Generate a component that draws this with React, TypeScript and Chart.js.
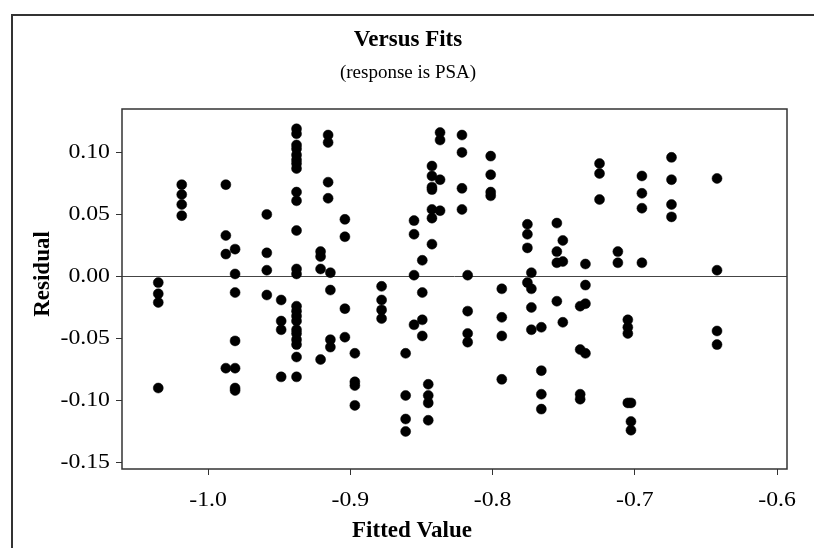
import { useEffect, useRef } from "react";
import { Chart, registerables } from "chart.js";

Chart.register(...registerables);

// Fitted values (one per vertical stack of points) and the residuals at each of them
const FIT_COLUMNS = [
  -1.035, -1.0185, -0.9875, -0.981, -0.9587, -0.9486, -0.9378, -0.9209, -0.9156, -0.914,
  -0.9038, -0.8968, -0.878, -0.8611, -0.8552, -0.8494, -0.8452, -0.8426, -0.8369, -0.8215,
  -0.8175, -0.8013, -0.7935, -0.7755, -0.7727, -0.7657, -0.7548, -0.7506, -0.7384, -0.7347,
  -0.7248, -0.7119, -0.7049, -0.7027, -0.695, -0.6742, -0.6422,
];

const RESIDUAL_COLUMNS = [
  [-0.005, -0.014, -0.021, -0.09],
  [0.074, 0.066, 0.058, 0.049],
  [0.074, 0.033, 0.018, -0.074],
  [0.022, 0.002, -0.013, -0.052, -0.074, -0.09, -0.092],
  [0.05, 0.019, 0.005, -0.015],
  [-0.019, -0.036, -0.043, -0.081],
  [
    0.119, 0.115, 0.106, 0.103, 0.098, 0.094, 0.091, 0.087, 0.068, 0.061, 0.037, 0.006,
    0.002, -0.024, -0.028, -0.032, -0.036, -0.043, -0.046, -0.051, -0.055, -0.065, -0.081,
  ],
  [0.02, 0.016, 0.006, -0.067],
  [0.114, 0.108, 0.076, 0.063],
  [0.003, -0.011, -0.051, -0.057],
  [0.046, 0.032, -0.026, -0.049],
  [-0.062, -0.085, -0.088, -0.104],
  [-0.008, -0.019, -0.027, -0.034],
  [-0.062, -0.096, -0.115, -0.125],
  [0.045, 0.034, 0.001, -0.039],
  [0.013, -0.013, -0.035, -0.048],
  [-0.087, -0.096, -0.102, -0.116],
  [0.089, 0.081, 0.072, 0.07, 0.054, 0.047, 0.026],
  [0.116, 0.11, 0.078, 0.053],
  [0.114, 0.1, 0.071, 0.054],
  [0.001, -0.028, -0.046, -0.053],
  [0.097, 0.082, 0.068, 0.065],
  [-0.01, -0.033, -0.048, -0.083],
  [0.042, 0.034, 0.023, -0.005],
  [0.003, -0.01, -0.025, -0.043],
  [-0.041, -0.076, -0.095, -0.107],
  [0.043, 0.02, 0.011, -0.02],
  [0.029, 0.012, -0.037],
  [-0.024, -0.059, -0.095, -0.099],
  [0.01, -0.007, -0.022, -0.062],
  [0.091, 0.083, 0.062],
  [0.02, 0.011],
  [-0.035, -0.041, -0.046, -0.102],
  [-0.102, -0.117, -0.124],
  [0.081, 0.067, 0.055, 0.011],
  [0.096, 0.078, 0.058, 0.048],
  [0.079, 0.005, -0.044, -0.055],
];

const X_TICKS = [-1.0, -0.9, -0.8, -0.7, -0.6];
const Y_TICKS = [-0.15, -0.1, -0.05, 0, 0.05, 0.1];

const TITLE = "Versus Fits";
const SUBTITLE = "(response is PSA)";
const X_TITLE = "Fitted Value";
const Y_TITLE = "Residual";

const SERIF = "'Liberation Serif', 'Times New Roman', serif";
const LINE = "#333333";

function drawText(
  ctx: CanvasRenderingContext2D,
  text: string,
  x: number,
  y: number,
  font: string,
  align: CanvasTextAlign,
  widen = 1
) {
  ctx.save();
  ctx.translate(x, y);
  ctx.scale(widen, 1);
  ctx.font = font;
  ctx.textAlign = align;
  ctx.textBaseline = "middle";
  ctx.fillStyle = "#000";
  ctx.fillText(text, 0, 0);
  ctx.restore();
}

// Outer frame, plot box, zero reference line, tick labels and titles
const decorations = {
  id: "decorations",
  beforeDatasetsDraw(chart: any) {
    const { ctx, chartArea } = chart;
    const y0 = chart.scales.y.getPixelForValue(0);
    ctx.save();
    ctx.strokeStyle = "#444444";
    ctx.lineWidth = 1;
    ctx.beginPath();
    ctx.moveTo(chartArea.left, Math.round(y0) + 0.5);
    ctx.lineTo(chartArea.right, Math.round(y0) + 0.5);
    ctx.stroke();
    ctx.restore();
  },
  afterDraw(chart: any) {
    const { ctx, chartArea, width, height } = chart;
    const xScale = chart.scales.x;
    const yScale = chart.scales.y;

    ctx.save();
    ctx.strokeStyle = LINE;
    ctx.lineWidth = 2;
    ctx.beginPath();
    ctx.moveTo(12, height);
    ctx.lineTo(12, 15);
    ctx.lineTo(width, 15);
    ctx.stroke();

    ctx.lineWidth = 1.5;
    ctx.strokeRect(
      chartArea.left,
      chartArea.top,
      chartArea.right - chartArea.left,
      chartArea.bottom - chartArea.top
    );
    ctx.restore();

    const tickFont = `22px ${SERIF}`;
    X_TICKS.forEach((v) => {
      drawText(ctx, v.toFixed(1), xScale.getPixelForValue(v), 500, tickFont, "center", 1.08);
    });
    Y_TICKS.forEach((v) => {
      drawText(ctx, v.toFixed(2), 110, yScale.getPixelForValue(v), tickFont, "right", 1.08);
    });

    drawText(ctx, TITLE, 408, 40, `bold 23px ${SERIF}`, "center");
    drawText(ctx, SUBTITLE, 408, 73, `19px ${SERIF}`, "center");
    drawText(ctx, X_TITLE, 412, 531, `bold 23px ${SERIF}`, "center");

    ctx.save();
    ctx.translate(43, 274);
    ctx.rotate(-Math.PI / 2);
    ctx.font = `bold 23px ${SERIF}`;
    ctx.textAlign = "center";
    ctx.textBaseline = "middle";
    ctx.fillStyle = "#000";
    ctx.fillText(Y_TITLE, 0, 0);
    ctx.restore();
  },
};

export default function App() {
  const canvasRef = useRef<HTMLCanvasElement | null>(null);

  useEffect(() => {
    const canvas = canvasRef.current;
    if (!canvas) return;

    const points = FIT_COLUMNS.flatMap((fit, i) =>
      RESIDUAL_COLUMNS[i].map((r) => ({ x: fit, y: r }))
    );

    const tickMarks = {
      display: true,
      drawOnChartArea: false,
      drawTicks: true,
      tickLength: 6,
      color: LINE,
      lineWidth: 1,
    };

    const chart = new Chart(canvas, {
      type: "scatter",
      data: {
        datasets: [
          {
            data: points,
            backgroundColor: "#000",
            borderColor: "#000",
            borderWidth: 0.5,
            pointRadius: 5,
            pointHoverRadius: 5,
          },
        ],
      },
      options: {
        animation: false,
        responsive: false,
        devicePixelRatio: 1,
        events: [],
        layout: { padding: { top: 109, right: 27, bottom: 0, left: 0 } },
        plugins: {
          legend: { display: false },
          tooltip: { enabled: false },
          title: { display: false },
        },
        scales: {
          x: {
            type: "linear",
            position: "bottom",
            min: -1.0605,
            max: -0.593,
            afterBuildTicks: (scale: any) => {
              scale.ticks = X_TICKS.map((v) => ({ value: v }));
            },
            afterFit: (scale: any) => {
              scale.height = 79;
            },
            grid: tickMarks,
            border: { display: false },
            ticks: { display: false },
          },
          y: {
            type: "linear",
            min: -0.1553,
            max: 0.135,
            afterBuildTicks: (scale: any) => {
              scale.ticks = Y_TICKS.map((v) => ({ value: v }));
            },
            afterFit: (scale: any) => {
              scale.width = 122;
            },
            grid: tickMarks,
            border: { display: false },
            ticks: { display: false },
          },
        },
      },
      plugins: [decorations],
    });

    return () => chart.destroy();
  }, []);

  return (
    <div
      style={{
        position: "absolute",
        left: 0,
        top: 0,
        width: 814,
        height: 548,
        background: "#fff",
      }}
    >
      <canvas ref={canvasRef} width={814} height={548} style={{ display: "block" }} />
    </div>
  );
}
